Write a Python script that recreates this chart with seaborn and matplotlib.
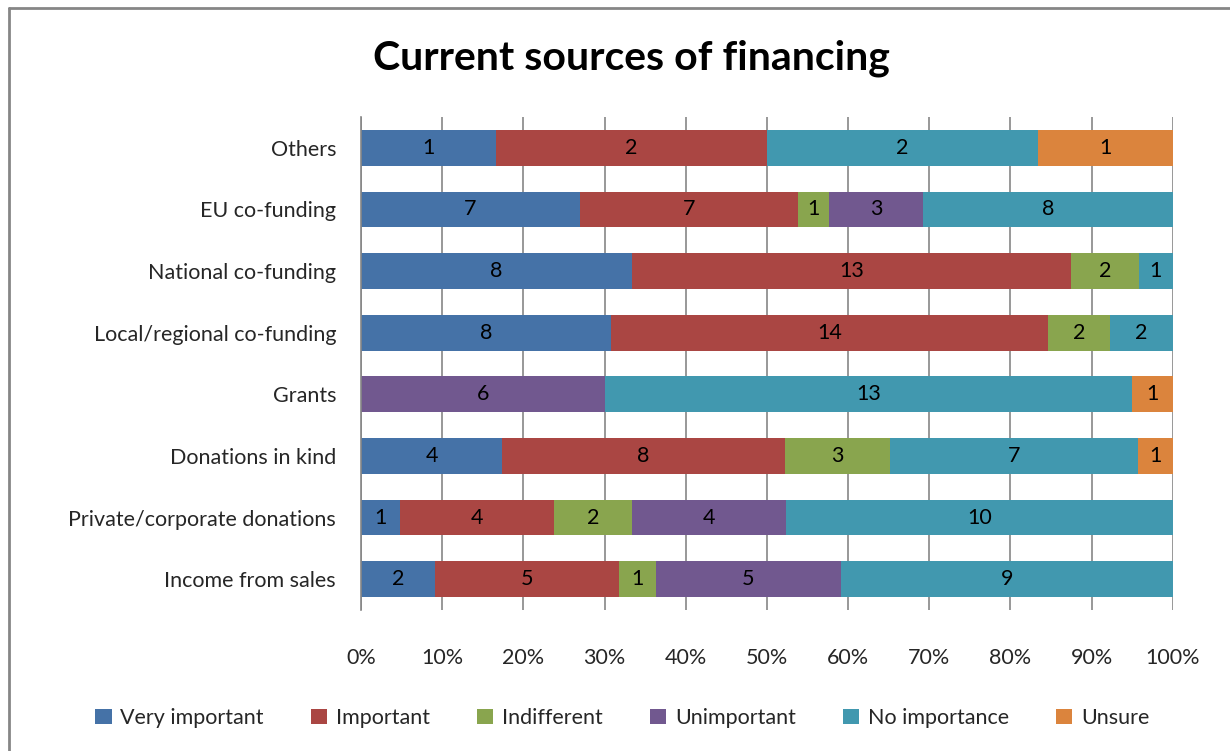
import matplotlib
matplotlib.use("Agg")
import matplotlib.pyplot as plt
from matplotlib.patches import Patch
from matplotlib.lines import Line2D
import numpy as np
import pandas as pd
import seaborn as sns

categories = ["Others", "EU co-funding", "National co-funding", "Local/regional co-funding",
              "Grants", "Donations in kind", "Private/corporate donations", "Income from sales"]
series_names = ["Very important", "Important", "Indifferent", "Unimportant", "No importance", "Unsure"]
very_important = [1, 7, 8, 8, 0, 4, 1, 2]
important = [2, 7, 13, 14, 0, 8, 4, 5]
indifferent = [0, 1, 2, 2, 0, 3, 2, 1]
unimportant = [0, 3, 0, 0, 6, 0, 4, 5]
no_importance = [2, 8, 1, 2, 13, 7, 10, 9]
unsure = [1, 0, 0, 0, 1, 1, 0, 0]
colors = ["#4572A7", "#AA4643", "#89A54E", "#71588F", "#4198AF", "#DB843D"]
x_ticks = [0, 10, 20, 30, 40, 50, 60, 70, 80, 90, 100]

sns.set_theme(style="white")
plt.rcParams["font.family"] = ["Lato", "DejaVu Sans"]

counts = np.array([very_important, important, indifferent, unimportant, no_importance, unsure], dtype=float)
totals = counts.sum(axis=0)
shares = counts / totals * 100
cum = np.cumsum(shares, axis=0)

fig = plt.figure(figsize=(12.3, 7.51), dpi=100)
ax = fig.add_axes([0.2935, 0.1877, 0.66, 0.6565])

# draw cumulative layers from the widest down so each segment shows its own colour
for i in range(len(series_names) - 1, -1, -1):
    df = pd.DataFrame({"category": categories, "value": cum[i]})
    sns.barplot(data=df, x="value", y="category", orient="h", color=colors[i],
                saturation=1, width=0.58, ax=ax, zorder=3, linewidth=0)

# segment value labels
for i in range(len(series_names)):
    for j, cat in enumerate(categories):
        if counts[i, j] > 0:
            left = cum[i, j] - shares[i, j]
            ax.text(left + shares[i, j] / 2, j, f"{int(counts[i, j])}",
                    ha="center", va="center", fontsize=15.5, color="black", zorder=4)

ax.set_xlim(0, 100)
ax.set_ylim(len(categories) - 0.5, -0.5)
ax.set_xticks(x_ticks)
ax.set_xticklabels([f"{t}%" for t in x_ticks], fontsize=15.5)
ax.tick_params(axis="y", labelsize=15.5, length=0, pad=18)
ax.tick_params(axis="x", length=0, pad=27)
ax.set_xlabel("")
ax.set_ylabel("")
ax.grid(axis="x", color="#868686", linewidth=1.2, zorder=0)
ax.set_axisbelow(True)
for side in ["top", "right", "bottom"]:
    ax.spines[side].set_visible(False)
ax.spines["left"].set_color("#868686")
ax.spines["left"].set_linewidth(1.2)
ax.spines["left"].set_zorder(5)

fig.text(0.513, 0.922, "Current sources of financing", ha="center", va="center",
         fontsize=29.5, fontweight="bold", color="black")

handles = [Patch(facecolor=c, edgecolor="none") for c in colors]
fig.legend(handles, series_names, loc="center", bbox_to_anchor=(0.506, 0.044), ncol=6,
           frameon=False, fontsize=15.5, handlelength=0.75, handleheight=0.75,
           handletextpad=0.4, columnspacing=2.2)

# outer chart frame
fig.add_artist(Line2D([0.0072, 0.0072], [0.0, 0.9893], transform=fig.transFigure,
                      color="#868686", linewidth=2))
fig.add_artist(Line2D([0.0072, 1.0], [0.9893, 0.9893], transform=fig.transFigure,
                      color="#868686", linewidth=2))

fig.savefig("out.png", dpi=100)
